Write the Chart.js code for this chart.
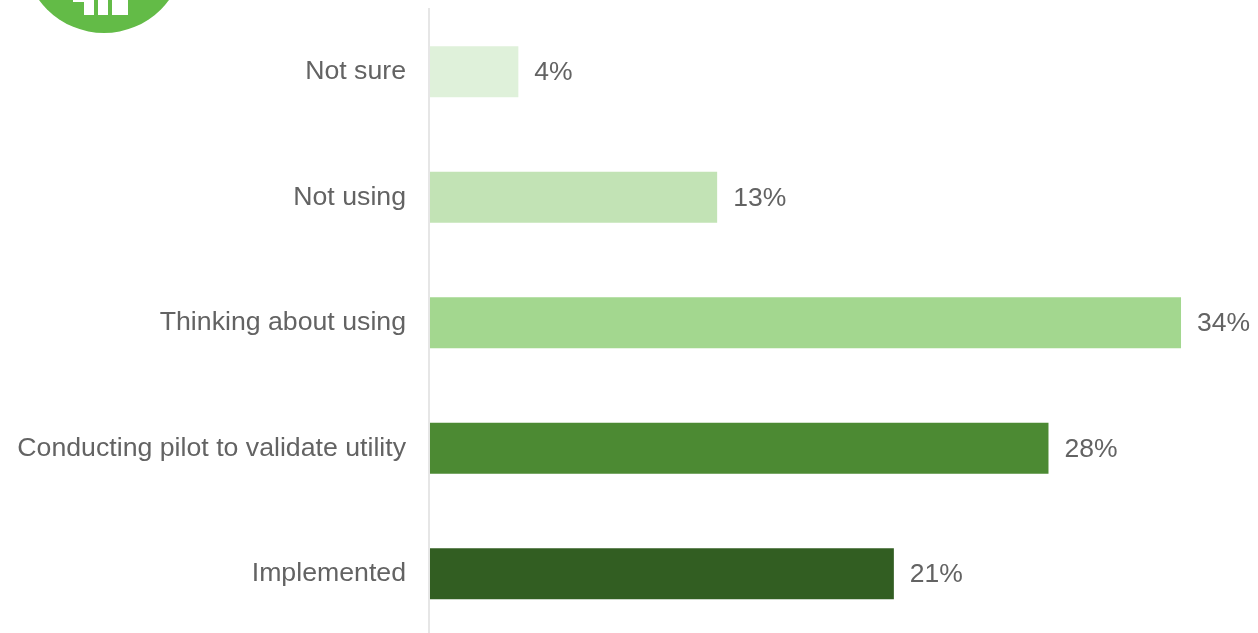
<!DOCTYPE html>
<html>
<head>
<meta charset="utf-8">
<style>
  html, body { margin: 0; padding: 0; background: #fff; overflow: hidden; }
  #wrap { position: relative; width: 1258px; height: 640px; }
</style>
<script src="https://cdn.jsdelivr.net/npm/chart.js@4/dist/chart.umd.min.js"></script>
</head>
<body>
<div id="wrap"><canvas id="chart"></canvas></div>
<script>
const categories = ['Not sure', 'Not using', 'Thinking about using', 'Conducting pilot to validate utility', 'Implemented']
const shares = [4, 13, 34, 28, 21]
const barColors = ['#dff1da', '#c2e3b5', '#a3d78f', '#4c8a33', '#325e22']

const TEXT_COLOR = '#636363'
const FONT = '"Liberation Sans", Arial, sans-serif'

// value labels at the end of each bar
const barLabels = {
  id: 'barLabels',
  afterDatasetsDraw(chart) {
    const { ctx } = chart
    const bars = chart.getDatasetMeta(0).data
    ctx.save()
    ctx.font = `26.5px ${FONT}`
    ctx.fillStyle = TEXT_COLOR
    ctx.textBaseline = 'middle'
    bars.forEach((bar, i) => {
      ctx.fillText(`${shares[i]}%`, bar.x + 16, bar.y + 1)
    })
    ctx.restore()
  }
}

// green badge cut off by the top edge
const badge = {
  id: 'badge',
  beforeDraw(chart) {
    const { ctx } = chart
    ctx.save()
    ctx.fillStyle = '#63bb47'
    ctx.beginPath()
    ctx.arc(104, -47.5, 80.5, 0, Math.PI * 2)
    ctx.fill()
    ctx.fillStyle = '#fff'
    ctx.fillRect(84, 0, 10, 15)
    ctx.fillRect(98, 0, 10, 15)
    ctx.fillRect(112, 0, 16, 15)
    ctx.fillRect(73, 0, 11, 2)
    ctx.restore()
  }
}

new Chart(document.getElementById('chart'), {
  type: 'bar',
  data: {
    labels: categories,
    datasets: [{
      data: shares,
      backgroundColor: barColors,
      barPercentage: 51 / 125.5,
      categoryPercentage: 1
    }]
  },
  options: {
    indexAxis: 'y',
    animation: false,
    responsive: true,
    maintainAspectRatio: false,
    layout: { padding: { top: 9, bottom: 3.5, left: 0, right: 0 } },
    scales: {
      x: {
        type: 'linear',
        display: false,
        // small negative min keeps the bars just right of the axis line
        min: -0.045,
        max: 37.485
      },
      y: {
        afterFit(scale) {
          scale.width = 429
          // the category band has to run the full height of the plot
          scale.paddingTop = 0
          scale.paddingBottom = 0
        },
        grid: { display: false },
        border: { color: '#e6e6e6', width: 2 },
        ticks: {
          color: TEXT_COLOR,
          font: { family: FONT, size: 26.7 },
          padding: 15
        }
      }
    },
    plugins: {
      legend: { display: false },
      tooltip: { enabled: false }
    }
  },
  plugins: [badge, barLabels]
})
</script>
</body>
</html>
